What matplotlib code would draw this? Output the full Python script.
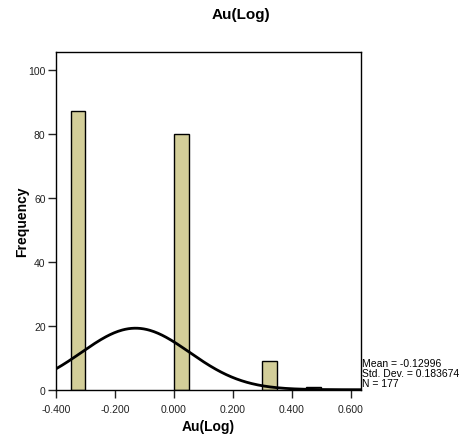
import numpy as np
import matplotlib
matplotlib.use('Agg')
from matplotlib import pyplot as plt

plt.rcParams['font.family'] = ['Liberation Sans', 'DejaVu Sans']

# histogram bins (left edges) and counts
bin_lefts = [-0.35, 0.00, 0.30, 0.45]
bin_width = 0.05
counts = [87, 80, 9, 1]

mean = -0.12996
std_dev = 0.183674
n_total = 177

x_ticks = [-0.4, -0.2, 0.0, 0.2, 0.4, 0.6]
x_tick_labels = ['-0.400', '-0.200', '0.000', '0.200', '0.400', '0.600']
y_ticks = [0, 20, 40, 60, 80, 100]

fig = plt.figure(figsize=(4.64, 4.39), dpi=100)
ax = fig.add_axes([0.1207, 0.110, 0.657, 0.769])

ax.bar(bin_lefts, counts, width=bin_width, align='edge',
       color='#d3ce99', edgecolor='black', linewidth=1.0, zorder=2)

# normal curve scaled to counts
xs = np.linspace(-0.4, 0.635, 300)
ys = n_total * bin_width / (std_dev * np.sqrt(2 * np.pi)) * np.exp(-0.5 * ((xs - mean) / std_dev) ** 2)
ax.plot(xs, ys, color='black', linewidth=2.0, zorder=3)

ax.set_xlim(-0.4, 0.635)
ax.set_ylim(0, 105.5)
ax.set_xticks(x_ticks)
ax.set_xticklabels(x_tick_labels)
ax.set_yticks(y_ticks)
ax.tick_params(axis='both', direction='out', length=6, width=1, labelsize=7.5,
               colors='#222222')
ax.tick_params(axis='x', pad=4)
ax.tick_params(axis='y', pad=1.5)
for sp in ax.spines.values():
    sp.set_linewidth(1.0)

ax.set_xlabel('Au(Log)', fontsize=10, fontweight='bold', labelpad=4)
ax.set_ylabel('Frequency', fontsize=10, fontweight='bold', labelpad=-1)

fig.text(0.52, 1 - 15 / 439, 'Au(Log)', fontsize=11, fontweight='bold',
         ha='center', va='center')

fig.text(0.781, 1 - 374 / 439,
         'Mean = %.5f\nStd. Dev. = %.6f\nN = %d' % (mean, std_dev, n_total),
         fontsize=7.5, ha='left', va='center', linespacing=0.95)

fig.savefig('out.png', dpi=100)
